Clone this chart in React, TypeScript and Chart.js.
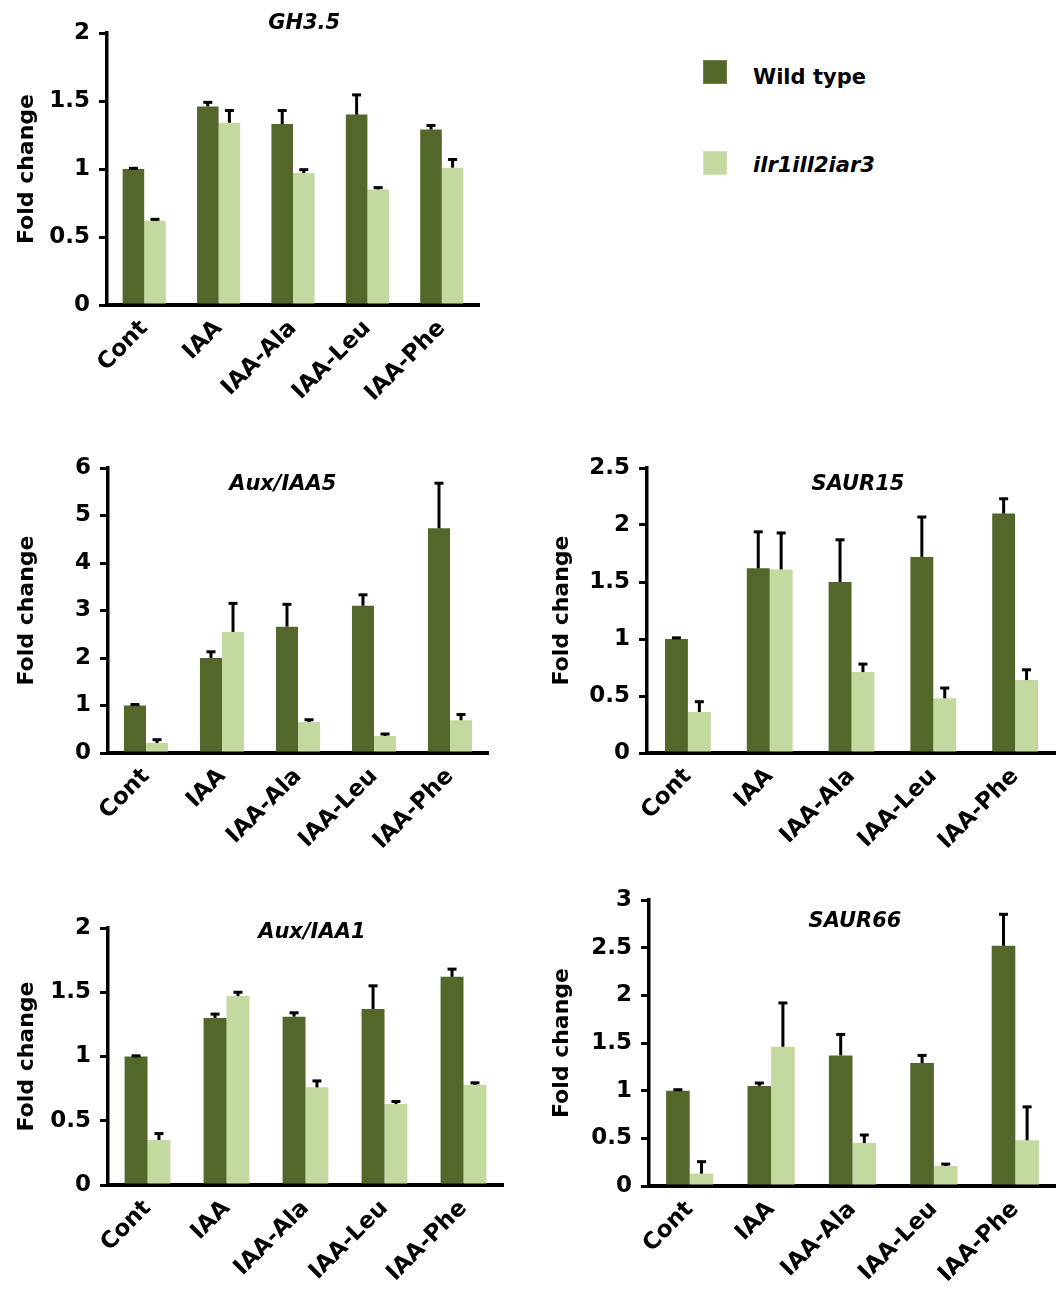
import React, { useEffect, useRef } from 'react';
import { Chart, registerables } from 'chart.js';

Chart.register(...registerables);

// ---------- data ----------
const categories = ['Cont', 'IAA', 'IAA-Ala', 'IAA-Leu', 'IAA-Phe'];
const seriesNames = ['Wild type', 'ilr1ill2iar3'];

const gh35Title = 'GH3.5';
const gh35Ticks = { max: 2, step: 0.5 };
const gh35Wt = [1.0, 1.46, 1.33, 1.4, 1.29];
const gh35WtErr = [0.005, 0.03, 0.1, 0.145, 0.03];
const gh35Mut = [0.62, 1.34, 0.97, 0.85, 1.01];
const gh35MutErr = [0.01, 0.09, 0.025, 0.013, 0.06];

const iaa5Title = 'Aux/IAA5';
const iaa5Ticks = { max: 6, step: 1 };
const iaa5Wt = [1.0, 2.0, 2.66, 3.1, 4.73];
const iaa5WtErr = [0.02, 0.13, 0.47, 0.23, 0.95];
const iaa5Mut = [0.21, 2.55, 0.65, 0.36, 0.69];
const iaa5MutErr = [0.07, 0.6, 0.05, 0.04, 0.12];

const saur15Title = 'SAUR15';
const saur15Ticks = { max: 2.5, step: 0.5 };
const saur15Wt = [1.0, 1.62, 1.5, 1.72, 2.1];
const saur15WtErr = [0.01, 0.32, 0.37, 0.35, 0.13];
const saur15Mut = [0.36, 1.61, 0.71, 0.48, 0.64];
const saur15MutErr = [0.09, 0.32, 0.07, 0.09, 0.09];

const iaa1Title = 'Aux/IAA1';
const iaa1Ticks = { max: 2, step: 0.5 };
const iaa1Wt = [1.0, 1.3, 1.31, 1.37, 1.62];
const iaa1WtErr = [0.005, 0.03, 0.03, 0.18, 0.06];
const iaa1Mut = [0.35, 1.47, 0.76, 0.63, 0.78];
const iaa1MutErr = [0.05, 0.03, 0.05, 0.02, 0.015];

const saur66Title = 'SAUR66';
const saur66Ticks = { max: 3, step: 0.5 };
const saur66Wt = [1.0, 1.05, 1.37, 1.29, 2.52];
const saur66WtErr = [0.01, 0.03, 0.22, 0.08, 0.33];
const saur66Mut = [0.13, 1.46, 0.45, 0.21, 0.48];
const saur66MutErr = [0.125, 0.46, 0.085, 0.02, 0.35];

// ---------- styles ----------
const DARK = '#526729';
const LIGHT = '#c4d9a0';
const FONT = "'DejaVu Sans', sans-serif";

Chart.defaults.font.family = FONT;
Chart.defaults.color = '#000';

const errorBarPlugin = {
  id: 'errorBars',
  afterDatasetsDraw(chart: any) {
    const ctx = chart.ctx;
    const y = chart.scales.y;
    chart.data.datasets.forEach((ds: any, di: number) => {
      const meta = chart.getDatasetMeta(di);
      meta.data.forEach((bar: any, i: number) => {
        const v = ds.data[i];
        const e = ds.errors[i];
        const top = y.getPixelForValue(v + e);
        ctx.save();
        ctx.strokeStyle = '#000';
        ctx.lineWidth = 3;
        ctx.beginPath();
        ctx.moveTo(bar.x, bar.y);
        ctx.lineTo(bar.x, top);
        ctx.stroke();
        ctx.beginPath();
        ctx.moveTo(bar.x - 4.5, top);
        ctx.lineTo(bar.x + 4.5, top);
        ctx.stroke();
        ctx.restore();
      });
    });
  },
};

const panelTitlePlugin = {
  id: 'panelTitle',
  afterDraw(chart: any, _args: any, opts: any) {
    if (!opts || !opts.text) return;
    const { ctx, chartArea } = chart;
    ctx.save();
    ctx.font = `italic bold 21px ${FONT}`;
    ctx.fillStyle = '#000';
    ctx.textAlign = 'center';
    ctx.textBaseline = 'middle';
    ctx.fillText(
      opts.text,
      chartArea.left + opts.xFrac * (chartArea.right - chartArea.left),
      chartArea.top + opts.dy
    );
    ctx.restore();
  },
};

type PanelProps = {
  left: number;
  top: number;
  width: number;
  height: number;
  yWidth: number;
  xHeight: number;
  padTop: number;
  padRight: number;
  catPct: number;
  title: string;
  titleX: number;
  titleDy: number;
  ticks: { max: number; step: number };
  wt: number[];
  wtErr: number[];
  mut: number[];
  mutErr: number[];
};

function Panel(p: PanelProps) {
  const ref = useRef<HTMLCanvasElement | null>(null);
  useEffect(() => {
    if (!ref.current) return;
    const chart = new Chart(ref.current, {
      type: 'bar',
      data: {
        labels: categories,
        datasets: [
          {
            label: seriesNames[0],
            data: p.wt,
            errors: p.wtErr,
            backgroundColor: DARK,
            borderWidth: 0,
            barPercentage: 1,
            categoryPercentage: p.catPct,
          } as any,
          {
            label: seriesNames[1],
            data: p.mut,
            errors: p.mutErr,
            backgroundColor: LIGHT,
            borderWidth: 0,
            barPercentage: 1,
            categoryPercentage: p.catPct,
          } as any,
        ],
      },
      plugins: [errorBarPlugin, panelTitlePlugin],
      options: {
        responsive: false,
        animation: false,
        layout: { padding: { top: p.padTop, right: p.padRight, left: 0, bottom: 0 } },
        plugins: {
          legend: { display: false },
          tooltip: { enabled: false },
          panelTitle: { text: p.title, xFrac: p.titleX, dy: p.titleDy },
        } as any,
        scales: {
          x: {
            grid: { display: false, drawTicks: false },
            border: { color: '#000', width: 4 },
            ticks: {
              color: '#000',
              font: { size: 23, weight: 'bold' },
              minRotation: 45,
              maxRotation: 45,
              autoSkip: false,
              padding: 10,
            },
            afterFit: (s: any) => {
              s.height = p.xHeight;
            },
          },
          y: {
            min: 0,
            max: p.ticks.max,
            ticks: {
              stepSize: p.ticks.step,
              color: '#000',
              font: { size: 23, weight: 'bold' },
              padding: 9,
              callback: (v: any) => String(Number(v)),
            },
            grid: { drawOnChartArea: false, color: '#000', lineWidth: 3, tickLength: 8 },
            border: { color: '#000', width: 3.5 },
            title: {
              display: true,
              text: 'Fold change',
              color: '#000',
              font: { size: 22, weight: 'bold' },
              padding: { top: 14, bottom: 0 },
            },
            afterFit: (s: any) => {
              s.width = p.yWidth;
            },
          },
        },
      } as any,
    });
    return () => chart.destroy();
  }, []);
  return (
    <canvas
      ref={ref}
      width={p.width}
      height={p.height}
      style={{ position: 'absolute', left: p.left, top: p.top, width: p.width, height: p.height }}
    />
  );
}

export default function App() {
  return (
    <div
      style={{
        position: 'absolute',
        left: 0,
        top: 0,
        width: 1056,
        height: 1289,
        background: '#fff',
        overflow: 'hidden',
      }}
    >
      <Panel
        left={0} top={0} width={490} height={400}
        yWidth={107} xHeight={95} padTop={33} padRight={11} catPct={0.58}
        title={gh35Title} titleX={0.53} titleDy={-9}
        ticks={gh35Ticks} wt={gh35Wt} wtErr={gh35WtErr} mut={gh35Mut} mutErr={gh35MutErr}
      />
      <Panel
        left={0} top={430} width={500} height={440}
        yWidth={108} xHeight={117} padTop={38} padRight={12} catPct={0.58}
        title={iaa5Title} titleX={0.46} titleDy={17}
        ticks={iaa5Ticks} wt={iaa5Wt} wtErr={iaa5WtErr} mut={iaa5Mut} mutErr={iaa5MutErr}
      />
      <Panel
        left={535} top={430} width={521} height={440}
        yWidth={112} xHeight={117} padTop={38} padRight={0} catPct={0.56}
        title={saur15Title} titleX={0.516} titleDy={17}
        ticks={saur15Ticks} wt={saur15Wt} wtErr={saur15WtErr} mut={saur15Mut} mutErr={saur15MutErr}
      />
      <Panel
        left={0} top={880} width={515} height={409}
        yWidth={108} xHeight={104} padTop={48} padRight={12} catPct={0.58}
        title={iaa1Title} titleX={0.516} titleDy={5}
        ticks={iaa1Ticks} wt={iaa1Wt} wtErr={iaa1WtErr} mut={iaa1Mut} mutErr={iaa1MutErr}
      />
      <Panel
        left={535} top={870} width={521} height={419}
        yWidth={114} xHeight={103} padTop={30} padRight={0} catPct={0.58}
        title={saur66Title} titleX={0.506} titleDy={22}
        ticks={saur66Ticks} wt={saur66Wt} wtErr={saur66WtErr} mut={saur66Mut} mutErr={saur66MutErr}
      />
      {/* legend */}
      <div style={{ position: 'absolute', left: 703, top: 60, width: 22, height: 22, background: DARK, border: '1px solid #6f8545' }} />
      <div style={{ position: 'absolute', left: 753, top: 65, font: `bold 21px ${FONT}`, lineHeight: '24px', color: '#000', whiteSpace: 'nowrap' }}>
        {seriesNames[0]}
      </div>
      <div style={{ position: 'absolute', left: 703, top: 151, width: 22, height: 22, background: LIGHT, border: '1px solid #d2e2b6' }} />
      <div style={{ position: 'absolute', left: 753, top: 153, font: `italic bold 21px ${FONT}`, lineHeight: '24px', color: '#000', whiteSpace: 'nowrap' }}>
        {seriesNames[1]}
      </div>
    </div>
  );
}
